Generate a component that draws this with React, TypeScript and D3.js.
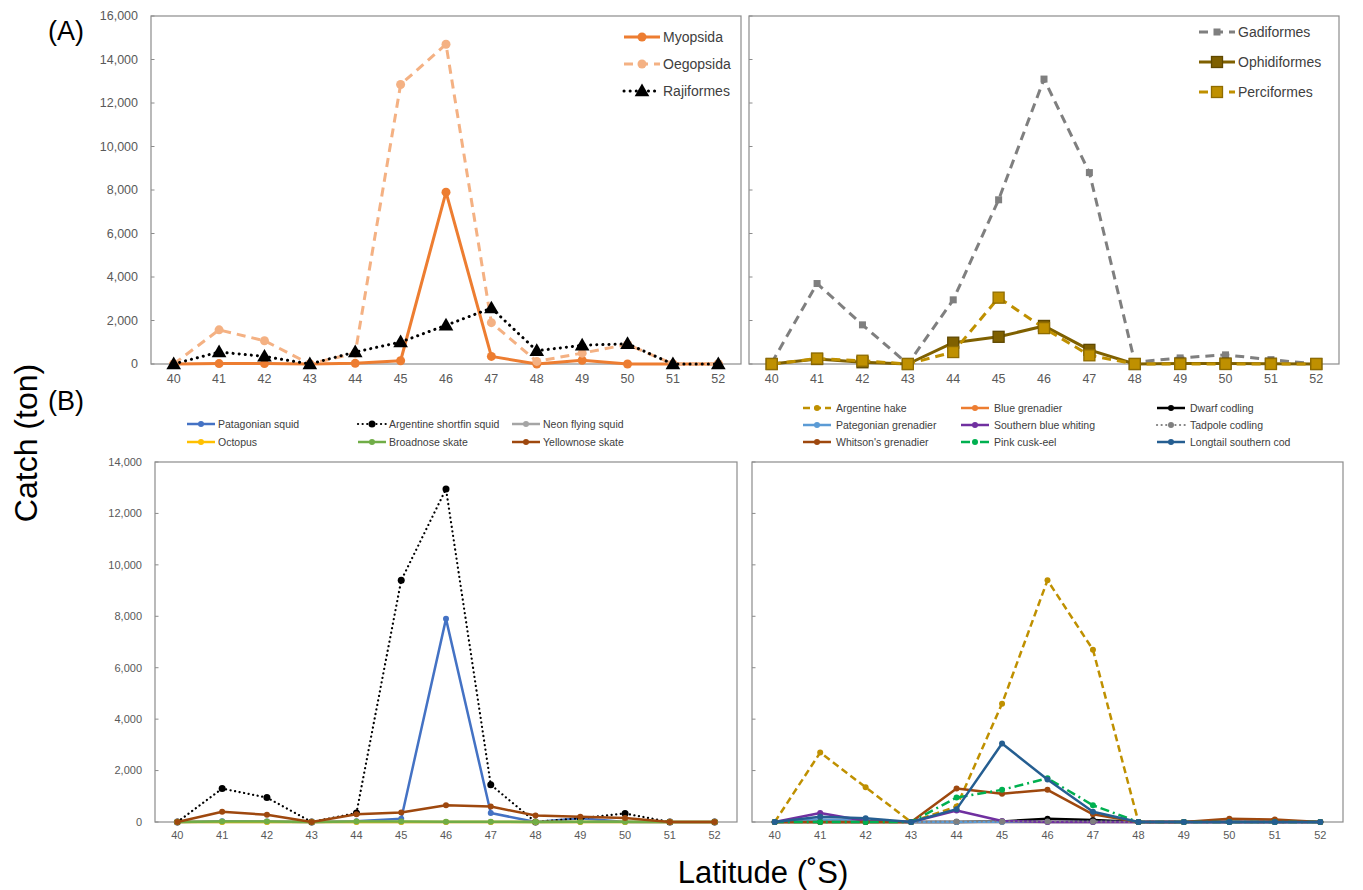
import React from "react";
import * as d3 from "d3";

// ---------- DATA ----------
const latitudes = [40, 41, 42, 43, 44, 45, 46, 47, 48, 49, 50, 51, 52];
const yTicksTop = [0, 2000, 4000, 6000, 8000, 10000, 12000, 14000, 16000];
const yTicksBottom = [0, 2000, 4000, 6000, 8000, 10000, 12000, 14000];

// (A) left: cephalopods & skates by order
const myopsida = [0, 20, 20, 0, 30, 150, 7900, 350, 0, 170, 0, 0, 0];
const oegopsida = [0, 1570, 1070, 0, 500, 12850, 14700, 1900, 120, 500, 900, 0, 0];
const rajiformes = [0, 550, 350, 0, 550, 1010, 1780, 2570, 610, 860, 930, 0, 0];

// (A) right: fish orders
const gadiformes = [50, 3700, 1800, 0, 2950, 7550, 13100, 8800, 80, 280, 420, 200, 0];
const ophidiformes = [0, 230, 80, 0, 980, 1250, 1750, 650, 0, 20, 20, 10, 0];
const perciformes = [0, 250, 150, 0, 550, 3050, 1650, 400, 0, 0, 0, 0, 0];

// (B) left: species
const patagonianSquid = [0, 30, 20, 0, 30, 130, 7900, 350, 0, 150, 0, 0, 0];
const argentineShortfinSquid = [0, 1300, 950, 0, 350, 9400, 12950, 1450, 0, 150, 330, 0, 0];
const neonFlyingSquid = [0, 0, 0, 0, 0, 0, 0, 0, 0, 0, 0, 0, 0];
const octopus = [0, 0, 0, 0, 0, 0, 0, 0, 0, 0, 0, 0, 0];
const broadnoseSkate = [0, 20, 20, 0, 20, 20, 10, 10, 0, 10, 10, 0, 0];
const yellownoseSkate = [0, 400, 280, 0, 300, 370, 650, 600, 250, 200, 160, 0, 0];

// (B) right: species
const argentineHake = [0, 2700, 1350, 0, 600, 4600, 9400, 6700, 0, 0, 0, 0, 0];
const blueGrenadier = [0, 0, 0, 0, 0, 0, 0, 0, 0, 0, 0, 0, 0];
const dwarfCodling = [0, 0, 0, 0, 0, 20, 130, 80, 0, 0, 0, 0, 0];
const pategonianGrenadier = [0, 100, 50, 0, 0, 0, 0, 0, 0, 0, 0, 0, 0];
const southernBlueWhiting = [0, 350, 40, 0, 450, 40, 0, 0, 0, 0, 0, 0, 0];
const tadpoleCodling = [0, 0, 0, 0, 20, 20, 20, 20, 0, 0, 0, 0, 0];
const whitsonsGrenadier = [0, 0, 0, 0, 1300, 1100, 1250, 300, 0, 0, 130, 100, 0];
const pinkCuskEel = [0, 0, 0, 0, 950, 1250, 1700, 650, 0, 0, 0, 0, 0];
const longtailSouthernCod = [0, 200, 150, 0, 500, 3050, 1650, 400, 0, 0, 0, 0, 0];

// ---------- STYLES ----------
type Marker = "circle" | "triangle" | "square" | "smallsquare";
interface Series {
  name: string;
  values: number[];
  color: string;
  dash?: string;
  width: number;
  marker: Marker;
  msize: number;
  mstroke?: string;
}

const FONT = "'Liberation Sans', Arial, sans-serif";

const seriesAL: Series[] = [
  { name: "Myopsida", values: myopsida, color: "#ED7D31", width: 3, marker: "circle", msize: 4.5 },
  { name: "Oegopsida", values: oegopsida, color: "#F4B183", width: 3, dash: "9,6", marker: "circle", msize: 4.5 },
  { name: "Rajiformes", values: rajiformes, color: "#000000", width: 3, dash: "0.1,6", marker: "triangle", msize: 6.5 },
];
const seriesAR: Series[] = [
  { name: "Gadiformes", values: gadiformes, color: "#7F7F7F", width: 3, dash: "9,6", marker: "smallsquare", msize: 3.5 },
  { name: "Ophidiformes", values: ophidiformes, color: "#7F6000", width: 3, marker: "square", msize: 5.5, mstroke: "#5f4800" },
  { name: "Perciformes", values: perciformes, color: "#BF9000", width: 3, dash: "9,6", marker: "square", msize: 5.5, mstroke: "#8f6c00" },
];
const seriesBL: Series[] = [
  { name: "Patagonian squid", values: patagonianSquid, color: "#4472C4", width: 2.5, marker: "circle", msize: 3 },
  { name: "Argentine shortfin squid", values: argentineShortfinSquid, color: "#000000", width: 2.2, dash: "0.1,4.5", marker: "circle", msize: 3.5 },
  { name: "Neon flying squid", values: neonFlyingSquid, color: "#A5A5A5", width: 2.5, marker: "circle", msize: 3 },
  { name: "Octopus", values: octopus, color: "#FFC000", width: 2.5, marker: "circle", msize: 3 },
  { name: "Broadnose skate", values: broadnoseSkate, color: "#70AD47", width: 2.5, marker: "circle", msize: 3 },
  { name: "Yellownose skate", values: yellownoseSkate, color: "#9E480E", width: 2.5, marker: "circle", msize: 3 },
];
const seriesBR: Series[] = [
  { name: "Argentine hake", values: argentineHake, color: "#BF9000", width: 2.5, dash: "7,4", marker: "circle", msize: 3 },
  { name: "Blue grenadier", values: blueGrenadier, color: "#ED7D31", width: 2.5, marker: "circle", msize: 3 },
  { name: "Dwarf codling", values: dwarfCodling, color: "#000000", width: 2.5, marker: "circle", msize: 3 },
  { name: "Pategonian grenadier", values: pategonianGrenadier, color: "#5B9BD5", width: 2.5, marker: "circle", msize: 3 },
  { name: "Southern blue whiting", values: southernBlueWhiting, color: "#7030A0", width: 2.5, marker: "circle", msize: 3 },
  { name: "Tadpole codling", values: tadpoleCodling, color: "#7F7F7F", width: 2.2, dash: "0.1,4.5", marker: "circle", msize: 3 },
  { name: "Whitson's grenadier", values: whitsonsGrenadier, color: "#9E480E", width: 2.5, marker: "circle", msize: 3 },
  { name: "Pink cusk-eel", values: pinkCuskEel, color: "#00B050", width: 2.5, dash: "9,4,2,4", marker: "circle", msize: 3 },
  { name: "Longtail southern cod", values: longtailSouthernCod, color: "#255E91", width: 2.5, marker: "circle", msize: 3 },
];

function MarkerShape({ s, x, y }: { s: Series; x: number; y: number }) {
  const r = s.msize;
  if (s.marker === "circle")
    return <circle cx={x} cy={y} r={r} fill={s.color} stroke={s.mstroke || "none"} />;
  if (s.marker === "triangle") {
    const p = d3.symbol().type(d3.symbolTriangle).size(r * r * 2.2)();
    return <path d={p || ""} transform={`translate(${x},${y + 1})`} fill={s.color} />;
  }
  if (s.marker === "smallsquare")
    return <rect x={x - r} y={y - r} width={2 * r} height={2 * r} fill={s.color} />;
  return (
    <rect x={x - r} y={y - r} width={2 * r} height={2 * r} fill={s.color} stroke={s.mstroke || s.color} strokeWidth={1.3} />
  );
}

interface PanelProps {
  left: number;
  right: number;
  top: number;
  bottom: number;
  yMax: number;
  yTicks: number[];
  series: Series[];
  showYLabels: boolean;
  tickFont: number;
  xLabelOffset: number;
}

function Panel(p: PanelProps) {
  const x = d3.scalePoint<number>().domain(latitudes).range([p.left, p.right]).padding(0.5);
  const y = d3.scaleLinear().domain([0, p.yMax]).range([p.bottom, p.top]);
  const fmt = d3.format(",");
  const line = d3
    .line<number>()
    .x((_, i) => x(latitudes[i]) as number)
    .y((v) => y(v));
  return (
    <g>
      <rect x={p.left} y={p.top} width={p.right - p.left} height={p.bottom - p.top} fill="none" stroke="#8c8c8c" strokeWidth={1.2} />
      {p.yTicks.map((t) => (
        <g key={t}>
          <line x1={p.left} x2={p.left + 3.5} y1={y(t)} y2={y(t)} stroke="#8c8c8c" strokeWidth={1} />
          {p.showYLabels && (
            <text x={p.left - 13} y={y(t)} dy="0.35em" textAnchor="end" fontSize={p.tickFont} fill="#595959" fontFamily={FONT}>
              {fmt(t)}
            </text>
          )}
        </g>
      ))}
      {latitudes.map((l) => (
        <text key={l} x={x(l)} y={p.bottom + p.xLabelOffset} dy="0.35em" textAnchor="middle" fontSize={p.tickFont} fill="#595959" fontFamily={FONT}>
          {l}
        </text>
      ))}
      {p.series.map((s) => (
        <g key={s.name}>
          <path
            d={line(s.values) || ""}
            fill="none"
            stroke={s.color}
            strokeWidth={s.width}
            strokeDasharray={s.dash}
            strokeLinecap={s.dash && s.dash.startsWith("0.1") ? "round" : "butt"}
            strokeLinejoin="round"
          />
          {s.values.map((v, i) => (
            <MarkerShape key={i} s={s} x={x(latitudes[i]) as number} y={y(v)} />
          ))}
        </g>
      ))}
    </g>
  );
}

function LegendItem({ s, x, y, len, fontSize, gap }: { s: Series; x: number; y: number; len: number; fontSize: number; gap: number }) {
  return (
    <g>
      <line
        x1={x}
        x2={x + len}
        y1={y}
        y2={y}
        stroke={s.color}
        strokeWidth={s.width}
        strokeDasharray={s.dash}
        strokeLinecap={s.dash && s.dash.startsWith("0.1") ? "round" : "butt"}
      />
      <MarkerShape s={s} x={x + len / 2} y={y} />
      <text x={x + len + gap} y={y} dy="0.35em" fontSize={fontSize} fill="#404040" fontFamily={FONT}>
        {s.name}
      </text>
    </g>
  );
}

export default function App() {
  const W = 1363;
  const H = 890;
  return (
    <svg width={W} height={H} style={{ position: "absolute", left: 0, top: 0, background: "#fff" }}>
      <rect width={W} height={H} fill="#fff" />
      <text x={48} y={40} fontSize={27} fontFamily={FONT} fill="#000">(A)</text>
      <text x={48} y={410} fontSize={27} fontFamily={FONT} fill="#000">(B)</text>
      <text transform="translate(37,443) rotate(-90)" textAnchor="middle" fontSize={32} fontFamily={FONT} fill="#000">
        Catch (ton)
      </text>
      <text x={763} y={883} textAnchor="middle" fontSize={31} fontFamily={FONT} fill="#000">
        Latitude (˚S)
      </text>

      <Panel left={151} right={741} top={16} bottom={364} yMax={16000} yTicks={yTicksTop} series={seriesAL} showYLabels={true} tickFont={12.5} xLabelOffset={15} />
      <Panel left={749} right={1339} top={16} bottom={364} yMax={16000} yTicks={yTicksTop} series={seriesAR} showYLabels={false} tickFont={12.5} xLabelOffset={15} />
      <Panel left={155} right={737} top={462} bottom={822} yMax={14000} yTicks={yTicksBottom} series={seriesBL} showYLabels={true} tickFont={11} xLabelOffset={13} />
      <Panel left={752} right={1343} top={462} bottom={822} yMax={14000} yTicks={yTicksBottom} series={seriesBR} showYLabels={false} tickFont={11} xLabelOffset={13} />

      {/* Legend A left */}
      {seriesAL.map((s, i) => (
        <LegendItem key={s.name} s={s} x={624} y={37 + i * 27} len={36} fontSize={14} gap={3} />
      ))}
      {/* Legend A right */}
      {seriesAR.map((s, i) => (
        <LegendItem key={s.name} s={s} x={1199} y={32 + i * 30} len={36} fontSize={14} gap={3} />
      ))}
      {/* Legend B left */}
      {seriesBL.map((s, i) => (
        <LegendItem key={s.name} s={s} x={[187, 358, 512][i % 3]} y={424 + Math.floor(i / 3) * 18} len={28} fontSize={10.5} gap={3} />
      ))}
      {/* Legend B right */}
      {seriesBR.map((s, i) => (
        <LegendItem key={s.name} s={s} x={[803, 961, 1157][i % 3]} y={408 + Math.floor(i / 3) * 17} len={28} fontSize={10.5} gap={5} />
      ))}
    </svg>
  );
}
